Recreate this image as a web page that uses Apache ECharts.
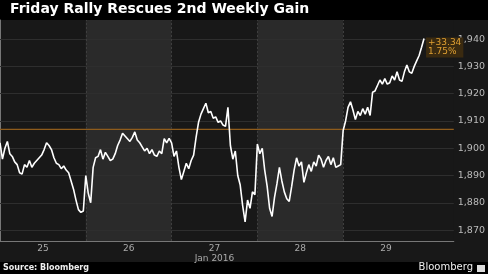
<!DOCTYPE html>
<html>
<head>
<meta charset="utf-8">
<script src="https://cdn.jsdelivr.net/npm/echarts@6/dist/echarts.min.js"></script>
<style>
html,body{margin:0;padding:0;background:#000;}
#c{width:488px;height:274px;}
</style>
</head>
<body>
<div id="c"></div>
<script>
// ---- data ----
const dayLabels = ['25', '26', '27', '28', '29'];
const monthLabel = 'Jan 2016';
const prevClose = 1906.90;
const day25 = [1902,1896,1900,1902.5,1898,1897,1895,1894,1891,1890.5,1894,1893,1895.5,1893,1894.5,1895.5,1896.5,1897.5,1899.5,1902,1901,1899.5,1896.5,1894.5,1894,1892.5,1893.5,1892,1891,1888,1885,1881,1877.5,1876.5,1877];
const day26 = [1890,1883.5,1880,1893,1896.5,1897,1899.5,1896,1898.5,1897,1895.5,1896,1898,1901,1903,1905.5,1904.5,1903.5,1902.5,1904,1906,1903,1902,1900.5,1899,1900,1898,1899.5,1897.5,1897,1899,1898,1903.5,1902,1903.6];
const day27 = [1902,1897,1899,1893,1888.5,1891.5,1894.5,1892.5,1895.5,1897.5,1904,1909.5,1912.5,1914.5,1916.5,1913,1913.5,1911,1911.5,1909.5,1910,1908.5,1908,1915,1901,1896,1899,1890,1886.5,1879,1873,1881,1878,1884,1883];
const day28 = [1901.5,1898,1900,1892,1886,1878,1875,1882,1887,1893,1888,1884,1881.5,1880.5,1886,1892,1896.5,1893.5,1895,1887.5,1891,1894,1891.5,1895,1893.5,1897.5,1896,1893,1895.5,1897,1894,1896.5,1893,1893.5,1894];
const day29 = [1906.5,1910,1915,1917,1914,1910.5,1913.5,1912,1914.5,1912.5,1915,1912,1920.5,1921,1923,1925,1923.5,1925.5,1923.5,1924,1926.5,1925,1928,1925,1924.5,1928,1930.5,1928,1927.5,1930,1932,1934,1937,1940.24];
const yTicks = [1870,1880,1890,1900,1910,1920,1930,1940];
const dayBounds = [1, 2, 3, 4];

// ---- build series (x = day index + fraction of session) ----
const days = [day25, day26, day27, day28, day29];
const stepsPerDay = 35;
const xMax = 5.29;
const pts = [];
days.forEach((arr, d) => {
  arr.forEach((v, i) => pts.push([d + i / stepsPerDay, v]));
});
const last = pts[pts.length - 1];
const chg = last[1] - prevClose;
const pct = chg / prevClose * 100;
const annot = (chg >= 0 ? '+' : '') + chg.toFixed(2) + '\n' + pct.toFixed(2) + '%';

const chart = echarts.init(document.getElementById('c'), null, {renderer: 'canvas'});
chart.setOption({
  backgroundColor: '#000',
  animation: false,
  graphic: [
    {type: 'rect', z: -10, silent: true, shape: {x: 0, y: 20, width: 488, height: 242}, style: {fill: '#181818'}},
    {type: 'text', left: 10, top: 2, style: {text: 'Friday Rally Rescues 2nd Weekly Gain', fill: '#fff', font: 'bold 14px "DejaVu Sans"'}},
    {type: 'text', left: 3, top: 264, style: {text: 'Source: Bloomberg', fill: '#eee', font: 'bold 8px "DejaVu Sans"'}},
    {type: 'text', right: 15, top: 262, style: {text: 'Bloomberg', fill: '#eee', font: '10px "DejaVu Sans"'}},
    {type: 'rect', right: 3, top: 265, shape: {width: 8, height: 7}, style: {fill: '#ddd'}}
  ],
  grid: {left: 0, right: 25, top: 20, bottom: 33, show: true, backgroundColor: '#181818', borderWidth: 0},
  xAxis: {
    type: 'value', min: 0, max: xMax, interval: 1,
    axisLine: {show: true, lineStyle: {color: '#777', width: 1}},
    axisTick: {show: false},
    splitLine: {show: false},
    axisLabel: {
      customValues: [0.5, 1.5, 2.5, 3.5, 4.5],
      color: '#aaa', fontSize: 9, fontFamily: 'DejaVu Sans', margin: 3, lineHeight: 10,
      formatter: function (v) {
        const i = Math.round(v - 0.5);
        return i === 2 ? dayLabels[i] + '\n' + monthLabel : (dayLabels[i] || '');
      }
    }
  },
  yAxis: {
    type: 'value', position: 'right', min: 1866, max: 1947,
    axisLine: {show: true, lineStyle: {color: '#777'}},
    axisTick: {show: true, inside: false, length: 3, lineStyle: {color: '#999'}, customValues: yTicks},
    splitLine: {show: false},
    axisLabel: {customValues: yTicks, color: '#bbb', fontSize: 9.5, fontFamily: 'DejaVu Sans', margin: 4}
  },
  series: [{
    type: 'line', data: [], silent: true,
    markArea: {
      silent: true, itemStyle: {color: '#2a2a2a'},
      data: [[{xAxis: 1}, {xAxis: 2}], [{xAxis: 3}, {xAxis: 4}]]
    },
    markLine: {
      silent: true, symbol: 'none', label: {show: false},
      lineStyle: {color: '#2e2e2e', width: 1, type: 'solid'},
      data: yTicks.map(v => ({yAxis: v}))
    }
  }, {
    type: 'line', data: [], silent: true,
    markLine: {
      silent: true, symbol: 'none', label: {show: false},
      lineStyle: {color: '#3e3e3e', width: 1, type: [2, 2]},
      data: dayBounds.map(v => ({xAxis: v}))
    }
  }, {
    type: 'line', silent: true, z: 3,
    data: [[0, prevClose], [xMax, prevClose]],
    showSymbol: false, symbol: 'none',
    itemStyle: {color: '#8f5c1c'},
    lineStyle: {color: '#8f5c1c', width: 1.2}
  }, {
    type: 'line', data: pts, showSymbol: false, symbol: 'none',
    itemStyle: {color: '#fff'},
    lineStyle: {color: '#fff', width: 1.6},
    z: 5,
    markPoint: {
      symbol: 'rect', symbolSize: 0,
      data: [{coord: last, value: annot}],
      label: {
        show: true, position: [2, -1], align: 'left', verticalAlign: 'top',
        formatter: annot, color: '#e0a032', fontSize: 9, fontFamily: 'DejaVu Sans',
        backgroundColor: '#3a2a10', padding: [1, 2], lineHeight: 9
      }
    }
  }]
});
</script>
</body>
</html>
